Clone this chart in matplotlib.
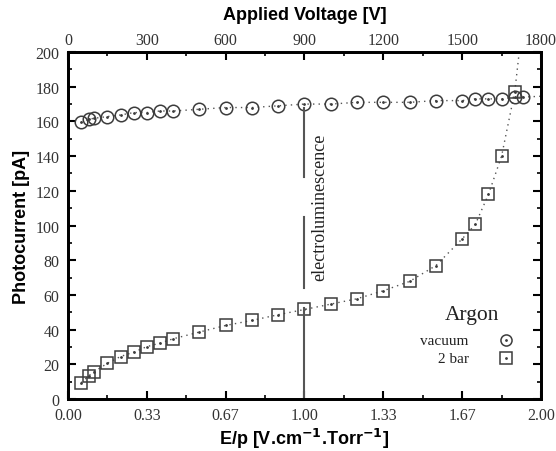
import matplotlib
matplotlib.use("Agg")
import matplotlib.pyplot as plt
import numpy as np

# Applied voltage [V] of each measurement (E/p = V/900)
voltage = [50, 80, 100, 150, 200, 250, 300, 350, 400, 500, 600, 700, 800, 900,
           1000, 1100, 1200, 1300, 1400, 1500, 1550, 1600, 1650, 1700, 1730]
vacuum = [159.4, 161.3, 161.8, 162.8, 163.7, 165.1, 165.1, 166.0, 166.0, 167.0,
          168.0, 168.0, 169.0, 170.0, 170.0, 171.0, 171.0, 171.0, 172.0, 172.0,
          173.0, 173.0, 173.0, 174.0, 174.0]
voltage_2bar = [50, 80, 100, 150, 200, 250, 300, 350, 400, 500, 600, 700, 800, 900,
                1000, 1100, 1200, 1300, 1400, 1500, 1550, 1600, 1650, 1700]
bar2 = [9.4, 13.5, 15.8, 20.6, 24.5, 27.0, 30.2, 32.2, 34.7, 38.6, 42.4, 45.3,
        48.6, 51.6, 54.7, 57.8, 62.4, 67.8, 76.9, 92.3, 100.6, 117.9, 140.0, 177.0]
# tails of the dotted guide curves
vac_tail_x = [1.922, 2.0]
vac_tail_y = [174.0, 174.5]
bar_tail_x = [1.889, 1.908]
bar_tail_y = [177.0, 200.0]

ep_vac = [v / 900 for v in voltage]
ep_bar = [v / 900 for v in voltage_2bar]

col = "#3c3c3c"
serif = "Liberation Serif"
sans = "Liberation Sans"

fig = plt.figure(figsize=(5.56, 4.52), dpi=100)
ax = fig.add_axes([0.1223, 0.115, 0.8507, 0.7677])

ls = (0, (1, 3))
ax.plot(ep_vac, vacuum, color="#555555", lw=1.0, ls=ls)
ax.plot([ep_vac[-1]] + vac_tail_x, [vacuum[-1]] + vac_tail_y, color="#555555", lw=1.0, ls=ls)
ax.plot(ep_bar, bar2, color="#555555", lw=1.0, ls=ls)
ax.plot(bar_tail_x, bar_tail_y, color="#555555", lw=1.0, ls=ls)

ax.plot(ep_vac, vacuum, ls="none", marker="o", ms=9, mfc="none", mec=col, mew=1.1)
ax.plot(ep_bar, bar2, ls="none", marker="s", ms=8.5, mfc="none", mec=col, mew=1.1)
ax.plot(ep_vac, vacuum, ls="none", marker=".", ms=2, color=col)
ax.plot(ep_bar, bar2, ls="none", marker=".", ms=2, color=col)

# electroluminescence onset line
ax.plot([1.0, 1.0], [167.6, 127.7], color="#555555", lw=1.5)
ax.plot([1.0, 1.0], [105, 64], color="#555555", lw=1.5)
ax.plot([1.0, 1.0], [52.6, 0], color="#555555", lw=1.5)
ax.text(1.065, 111, "electroluminescence", rotation=90, ha="center", va="center",
        family=serif, fontsize=13, color="#222222")

# legend
ax.text(1.825, 48.5, "Argon", ha="right", va="center", family=serif, fontsize=15.5, color="#222222")
ax.text(1.695, 34, "vacuum", ha="right", va="center", family=serif, fontsize=11, color="#222222")
ax.text(1.695, 23.5, "2 bar", ha="right", va="center", family=serif, fontsize=11, color="#222222")
ax.plot([1.85], [34], ls="none", marker="o", ms=8, mfc="none", mec=col, mew=1.1)
ax.plot([1.85], [23.5], ls="none", marker="s", ms=8, mfc="none", mec=col, mew=1.1)
ax.plot([1.85, 1.85], [34, 23.5], ls="none", marker=".", ms=2, color=col)

ax.set_xlim(0, 2.0)
ax.set_ylim(0, 200)
xt = [0, 1/3, 2/3, 1.0, 4/3, 5/3, 2.0]
ax.set_xticks(xt)
ax.set_xticklabels(["0.00", "0.33", "0.67", "1.00", "1.33", "1.67", "2.00"])
ax.set_xticks([x + 1/6 for x in xt[:-1]], minor=True)
ax.set_yticks(np.arange(0, 201, 20))
ax.set_yticks(np.arange(10, 200, 20), minor=True)

for s in ax.spines.values():
    s.set_linewidth(2.0)
ax.tick_params(which="both", direction="in", right=True, top=False, color="black")
ax.tick_params(which="major", length=6, width=1.5, labelsize=11.5, pad=6)
ax.tick_params(which="minor", length=3, width=1.2)
for lab in ax.get_xticklabels() + ax.get_yticklabels():
    lab.set_family(serif)
    lab.set_color("#333333")

ax.set_xlabel(r"E/p [V.cm$^{\mathbf{-1}}$.Torr$^{\mathbf{-1}}$]", family=sans, fontweight="bold",
              fontsize=13, labelpad=2)
ax.set_ylabel("Photocurrent [pA]", family=sans, fontweight="bold", fontsize=13, labelpad=4)

top = ax.twiny()
top.set_xlim(0, 1800)
top.set_xticks(np.arange(0, 1801, 300))
top.set_xticks(np.arange(150, 1800, 300), minor=True)
top.tick_params(which="both", direction="in")
top.tick_params(which="major", length=6, width=1.5, labelsize=11.5, pad=3)
top.tick_params(which="minor", length=3, width=1.2)
for lab in top.get_xticklabels():
    lab.set_family(serif)
    lab.set_color("#333333")
for s in top.spines.values():
    s.set_linewidth(2.0)
fig.text(ax.get_position().x0 + ax.get_position().width / 2, 1 - 15 / 452,
         "Applied Voltage [V]", family=sans, fontweight="bold", fontsize=13,
         ha="center", va="center")

fig.savefig("out.png", dpi=100)
